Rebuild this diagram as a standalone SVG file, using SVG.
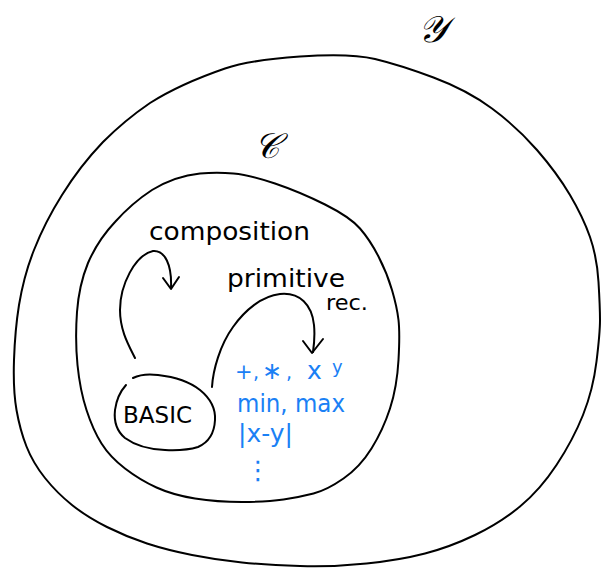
<svg xmlns="http://www.w3.org/2000/svg" width="606" height="569" viewBox="0 0 606 569">
<style>
.ln{fill:none;stroke:#000;stroke-width:2;stroke-linecap:round;stroke-linejoin:round}
.t{font-family:"DejaVu Sans","Liberation Sans",sans-serif;fill:#000}
.b{font-family:"DejaVu Sans","Liberation Sans",sans-serif;fill:#1a80f5}
.s{font-family:"Liberation Serif",serif;font-style:italic;fill:#000}
</style>
<rect width="606" height="569" fill="#fff"/>
<g id="outer">
<path class="ln" d="M225,68.5 Q250,60 300,56.5 Q350,53 375,59 Q400,65 433.5,77.5 Q467,90 492,108.5 Q517,127 537,150 Q557,173 570,195 Q583,217 590,237 Q597,257 598.5,282 Q600,307 600,320 Q600,333 596.5,361.5 Q593,390 583,415 Q573,440 556.5,465 Q540,490 520,506.5 Q500,523 475,535 Q450,547 425,553.5 Q400,560 366.5,563.5 Q333,567 300,566 Q267,565 242,562.5 Q217,560 192,555 Q167,550 147,543.5 Q127,537 107,527 Q87,517 72,505 Q57,493 45,478 Q33,463 26.5,446.5 Q20,430 16.5,410 Q13,390 14,360 Q15,330 19,305 Q24,275 34,250 Q45,222 62,195 Q80,166 103,142 Q125,120 150,103 Q180,84 225,68.5 Z"/>
<text class="s" x="418" y="42" font-size="37">𝒴</text>
</g>
<g id="inner">
<path class="ln" d="M200,173.5 Q217,172 233.5,173.5 Q250,175 275,183.5 Q300,192 325,204.5 Q350,217 360,228.5 Q370,240 378.5,256.5 Q387,273 392,290 Q397,307 398.5,320 Q400,333 398.5,360 Q397,387 390,408.5 Q383,430 371.5,448.5 Q360,467 343.5,478.5 Q327,490 313.5,493.5 Q300,497 283.5,499.5 Q267,502 242,502 Q217,502 195,498.5 Q173,495 156.5,487.5 Q140,480 125,468.5 Q110,457 101.5,443.5 Q93,430 86.5,410 Q80,390 77.5,365 Q75,340 77,312 Q79,285 88,263 Q98,240 115,222 Q132,203 152,190 Q175,176 200,173.5 Z"/>
<text class="s" x="254" y="158" font-size="35">𝒞</text>
</g>
<g id="basic">
<path class="ln" d="M133,378 Q143,373 158,375 Q185,378 200,390 Q216,403 215,420 Q214,440 198,447 Q185,451 165,450 Q140,449 125,438 Q113,428 115,410 Q117,395 126,385"/>
<text class="t" x="123" y="423" font-size="23" textLength="69" lengthAdjust="spacingAndGlyphs">BASIC</text>
</g>
<g id="prims">
<text class="b" y="379"><tspan x="235" font-size="21">+</tspan><tspan x="253" font-size="19">,</tspan><tspan x="262" font-size="24">∗</tspan><tspan x="286" font-size="19">,</tspan><tspan x="307" font-size="25">x</tspan><tspan x="332" y="373" font-size="18">y</tspan></text>
<text class="b" x="237" y="412" font-size="24" textLength="108" lengthAdjust="spacingAndGlyphs">min, max</text>
<text class="b" x="238" y="442" font-size="24" textLength="55" lengthAdjust="spacingAndGlyphs">|x-y|</text>
<text class="b" x="245" y="479" font-size="26">⋮</text>
</g>
<g id="labels">
<text class="t" x="149" y="240" font-size="24" textLength="161" lengthAdjust="spacingAndGlyphs">composition</text>
<text class="t" x="227" y="287" font-size="25" textLength="118" lengthAdjust="spacingAndGlyphs">primitive</text>
<text class="t" x="326" y="310" font-size="22" textLength="42" lengthAdjust="spacingAndGlyphs">rec.</text>
</g>
<g id="connectors">
<path class="ln" d="M135,358 C128,344 120,330 120,310 C120,285 135,255 153,251 C165,250 172,265 171,288"/>
<path class="ln" d="M163,278 L171,289 L179,277"/>
<path class="ln" d="M212,387 C213,370 220,345 233,327 C245,310 262,296 280,294 C300,292 312,305 314,325 C315,335 314,345 313,352"/>
<path class="ln" d="M303,341 L312,353 L323,339"/>
</g>
</svg>
